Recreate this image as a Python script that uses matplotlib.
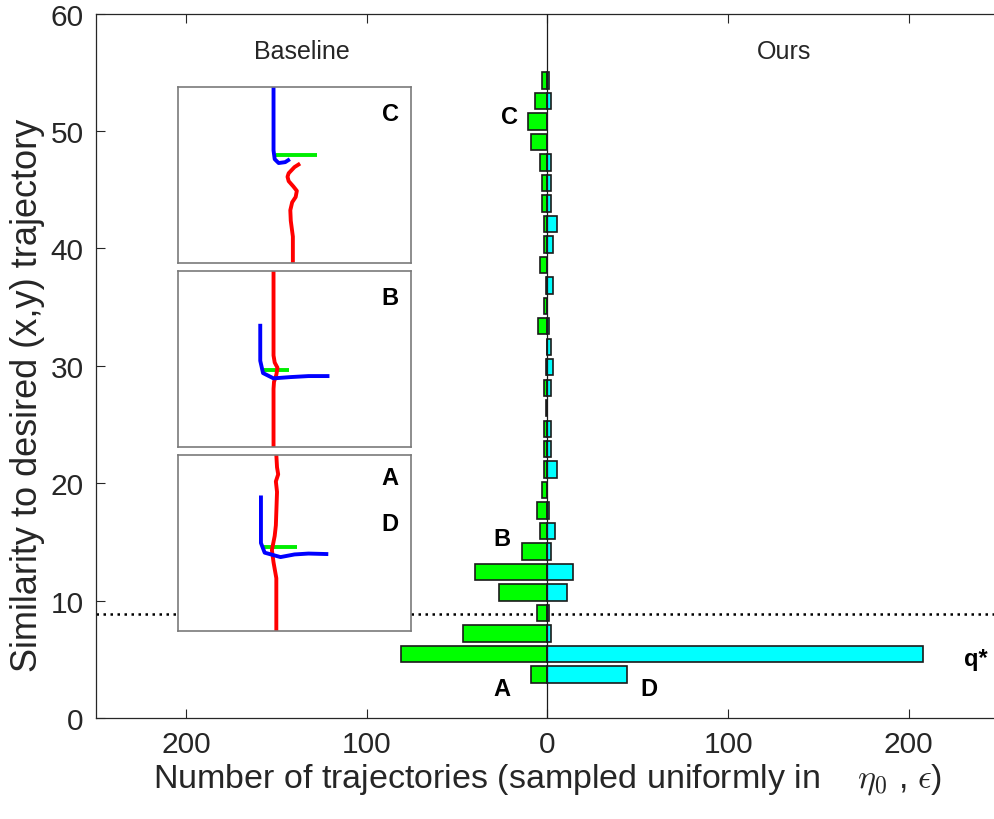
import numpy as np
import matplotlib
matplotlib.use("Agg")
import matplotlib.pyplot as plt

plt.rcParams['font.family'] = ['Liberation Sans', 'DejaVu Sans']
plt.rcParams['mathtext.fontset'] = 'cm'

# bin centres of the similarity histogram (y axis)
similarity = [3.69, 5.44, 7.19, 8.93, 10.68, 12.43, 14.17, 15.92, 17.66, 19.41,
              21.15, 22.90, 24.64, 26.39, 28.13, 29.88, 31.62, 33.37, 35.11, 36.86,
              38.60, 40.35, 42.09, 43.84, 45.58, 47.33, 49.07, 50.82, 52.56, 54.31]
# counts per bin
baseline = [9, 81, 47, 6, 27, 40, 14, 4, 6, 3,
            2, 2, 2, 1, 2, 1, 0, 5, 2, 1,
            4, 2, 2, 3, 3, 4, 9, 11, 7, 3]
ours = [44, 208, 2, 1, 11, 14, 2, 4, 1, 0,
        5, 2, 2, 0, 2, 3, 2, 1, 0, 3,
        0, 3, 5, 2, 2, 2, 0, 0, 2, 1]
q_star = 8.9
xticks = [-200, -100, 0, 100, 200]
xticklabels = ['200', '100', '0', '100', '200']

# inset sketches (box-relative coords), top to bottom: C, B, A/D
inset_names = ['C', 'B', 'A\n\nD']
red_paths = [
    [(0.524, 0.565), (0.50, 0.545), (0.475, 0.51), (0.47, 0.49), (0.475, 0.465), (0.495, 0.435),
     (0.51, 0.41), (0.505, 0.375), (0.49, 0.345), (0.482, 0.30), (0.484, 0.24), (0.493, 0.15), (0.493, 0.0)],
    [(0.41, 1.0), (0.41, 0.52), (0.415, 0.48), (0.427, 0.45), (0.422, 0.41), (0.412, 0.37), (0.41, 0.33), (0.41, 0.0)],
    [(0.422, 1.0), (0.425, 0.93), (0.43, 0.89), (0.42, 0.85), (0.425, 0.79), (0.42, 0.60),
     (0.415, 0.54), (0.403, 0.46), (0.41, 0.39), (0.422, 0.30), (0.422, 0.0)],
]
blue_paths = [
    [(0.41, 1.0), (0.41, 0.64), (0.415, 0.59), (0.432, 0.568), (0.46, 0.573), (0.48, 0.59)],
    [(0.353, 0.70), (0.353, 0.49), (0.365, 0.42), (0.41, 0.39), (0.48, 0.397), (0.56, 0.403), (0.65, 0.403)],
    [(0.356, 0.77), (0.356, 0.50), (0.372, 0.445), (0.44, 0.42), (0.50, 0.435), (0.56, 0.44), (0.645, 0.437)],
]
green_paths = [
    [(0.42, 0.616), (0.595, 0.616)],
    [(0.367, 0.438), (0.477, 0.438)],
    [(0.356, 0.478), (0.51, 0.478)],
]

text_col = '#262626'
fig = plt.figure(figsize=(9.95, 8.2), dpi=100)
ax = fig.add_axes([0.0965, 0.1232, 0.9075, 0.8589])

h = 0.8 * (similarity[1] - similarity[0])
ax.barh(similarity, [-b for b in baseline], height=h, color='#00ff00',
        edgecolor='#1a1a1a', linewidth=1.2, zorder=3)
ax.barh(similarity, ours, height=h, color='#00ffff',
        edgecolor='#1a1a1a', linewidth=1.2, zorder=3)
ax.axvline(0, color='#1a1a1a', lw=0.9, zorder=4)
ax.axhline(q_star, color='black', ls=(0, (1, 1.8)), lw=1.8, zorder=2)

ax.set_xlim(-250, 250)
ax.set_ylim(0, 60)
ax.set_xticks(xticks)
ax.set_xticklabels(xticklabels)
ax.set_yticks(range(0, 61, 10))
ax.tick_params(direction='in', length=6.5, width=0.8, labelsize=21.5,
               colors=text_col, top=True, right=False, pad=9)
for s in ax.spines.values():
    s.set_color(text_col)
    s.set_linewidth(0.9)
ax.spines['right'].set_visible(False)

ax.set_xlabel(r'Number of trajectories (sampled uniformly in    $\eta_0$ , $\epsilon$)',
              fontsize=24.5, color=text_col, labelpad=2)
ax.set_ylabel('Similarity to desired (x,y) trajectory', fontsize=26, color=text_col)
ax.yaxis.set_label_coords(-0.056, 0.46)

ax.text(-136, 56.8, 'Baseline', fontsize=18, color=text_col, ha='center', va='center')
ax.text(131, 56.8, 'Ours', fontsize=18, color=text_col, ha='center', va='center')
lbl = dict(fontsize=17, fontweight='bold', color='black', ha='center', va='center')
ax.text(-21, 51.2, 'C', **lbl)
ax.text(-25, 15.3, 'B', **lbl)
ax.text(-25, 2.5, 'A', **lbl)
ax.text(56, 2.5, 'D', **lbl)
ax.text(237, 5.1, 'q*', **lbl)

# insets: pixel boxes converted to figure fractions
W, H = 995.0, 820.0
boxes = [(178, 88, 411, 264), (178, 272, 411, 448), (178, 456, 411, 632)]
for k, (x0, y0, x1, y1) in enumerate(boxes):
    ia = fig.add_axes([x0 / W, 1 - y1 / H, (x1 - x0) / W, (y1 - y0) / H])
    ia.set_xlim(0, 1)
    ia.set_ylim(0, 1)
    ia.set_xticks([])
    ia.set_yticks([])
    for s in ia.spines.values():
        s.set_color('#7a7a7a')
        s.set_linewidth(1.2)
    for pts, c in ((green_paths[k], '#00ee00'), (red_paths[k], '#ff0000'), (blue_paths[k], '#0000ff')):
        xs, ys = zip(*pts)
        ia.plot(xs, ys, color=c, lw=2.8, solid_capstyle='butt', solid_joinstyle='round')
    ia.text(0.91, 0.85 if k < 2 else 0.74, inset_names[k], fontsize=17, fontweight='bold',
            ha='center', va='center', linespacing=1.0)

fig.savefig('out.png', dpi=100)
